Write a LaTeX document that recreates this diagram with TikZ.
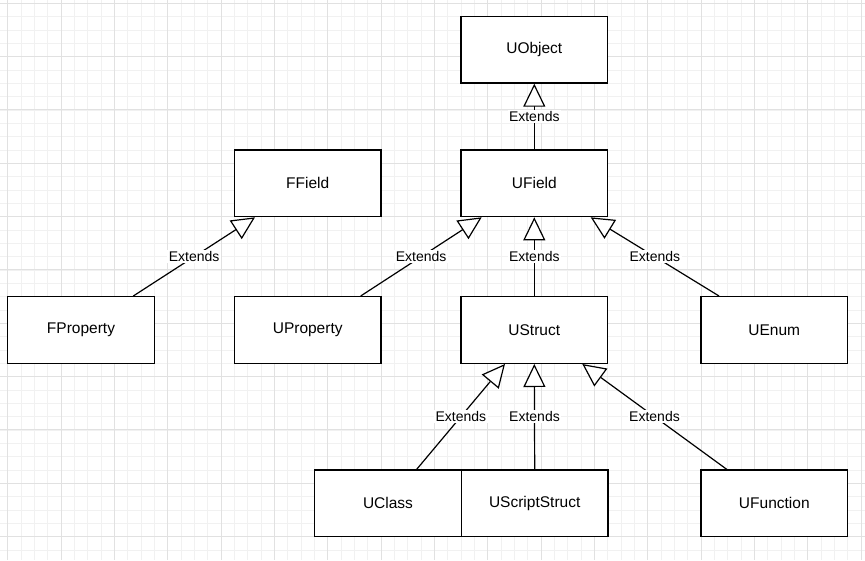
\documentclass[tikz,border=0pt]{standalone}
\usepackage{fontspec}
\setmainfont{Liberation Sans}
\usetikzlibrary{arrows.meta}

\definecolor{gridminor}{RGB}{241,241,241}
\definecolor{gridmajor}{RGB}{225,225,225}

\tikzset{
	classbox/.style={draw=black, line width=1.3pt, fill=white, minimum width=146.7pt, minimum height=66.7pt, inner sep=0pt, font=\fontsize{15.5}{18}\selectfont},
	extends/.style={line width=1.2pt, -{Triangle[length=23pt,width=22pt,fill=white]}},
	extlabel/.style={fill=white, inner sep=1.5pt, font=\fontsize{14}{16}\selectfont}
}

\begin{document}
\begin{tikzpicture}[x=1pt,y=1pt,yscale=-1,xscale=1]
	\useasboundingbox (0,0) rectangle (865,560);
	\fill[white] (0,0) rectangle (865,560);
	
	%Grid: minor and major lines
	\foreach \k in {-1,...,64} {
		\draw[gridminor, line width=0.8pt] (7.7+13.333*\k,0) -- (7.7+13.333*\k,560);
	}
	\foreach \k in {0,...,42} {
		\draw[gridminor, line width=0.8pt] (0,3.3+13.333*\k) -- (865,3.3+13.333*\k);
	}
	\foreach \k in {0,...,16} {
		\draw[gridmajor, line width=1pt] (7.7+53.333*\k,0) -- (7.7+53.333*\k,560);
	}
	\foreach \k in {0,...,10} {
		\draw[gridmajor, line width=1pt] (0,3.3+53.333*\k) -- (865,3.3+53.333*\k);
	}
	
	%Shape: Rectangle [UObject]
	\node[classbox] (uobject) at (534.3,49.7) {UObject};
	%Shape: Rectangle [UField]
	\node[classbox] (ufield) at (534.3,183.3) {UField};
	%Shape: Rectangle [FField]
	\node[classbox] (ffield) at (307.7,183.3) {FField};
	%Shape: Rectangle [FProperty]
	\node[classbox] (fprop) at (81,330) {FProperty};
	%Shape: Rectangle [UProperty]
	\node[classbox] (uprop) at (307.7,330) {UProperty};
	%Shape: Rectangle [UStruct]
	\node[classbox] (ustruct) at (534.3,330) {UStruct};
	%Shape: Rectangle [UEnum]
	\node[classbox] (uenum) at (774.3,330) {UEnum};
	%Shape: Rectangle [UClass]
	\node[classbox] (uclass) at (388,503.3) {UClass};
	%Shape: Rectangle [UScriptStruct]
	\node[classbox] (uscript) at (534.7,503.3) {UScriptStruct};
	%Shape: Rectangle [UFunction]
	\node[classbox] (ufunc) at (774.3,503.3) {UFunction};
	
	%Straight Lines [generalisation]
	\draw[extends] (ufield.north) -- (uobject.south) node[midway,extlabel] {Extends};
	\draw[extends] ([xshift=52.3pt]fprop.north) -- ([xshift=-52.7pt]ffield.south) node[midway,extlabel] {Extends};
	\draw[extends] ([xshift=53pt]uprop.north) -- ([xshift=-52.6pt]ufield.south) node[midway,extlabel] {Extends};
	\draw[extends] (ustruct.north) -- (ufield.south) node[midway,extlabel] {Extends};
	\draw[extends] ([xshift=-55.3pt]uenum.north) -- ([xshift=56.4pt]ufield.south) node[midway,extlabel] {Extends};
	\draw[extends] ([xshift=28.7pt]uclass.north) -- ([xshift=-29.3pt]ustruct.south) node[midway,extlabel] {Extends};
	\draw[extends] (uscript.north) -- (ustruct.south) node[midway,extlabel] {Extends};
	\draw[extends] ([xshift=-47.6pt]ufunc.north) -- ([xshift=48pt]ustruct.south) node[midway,extlabel] {Extends};
	
\end{tikzpicture}
\end{document}
